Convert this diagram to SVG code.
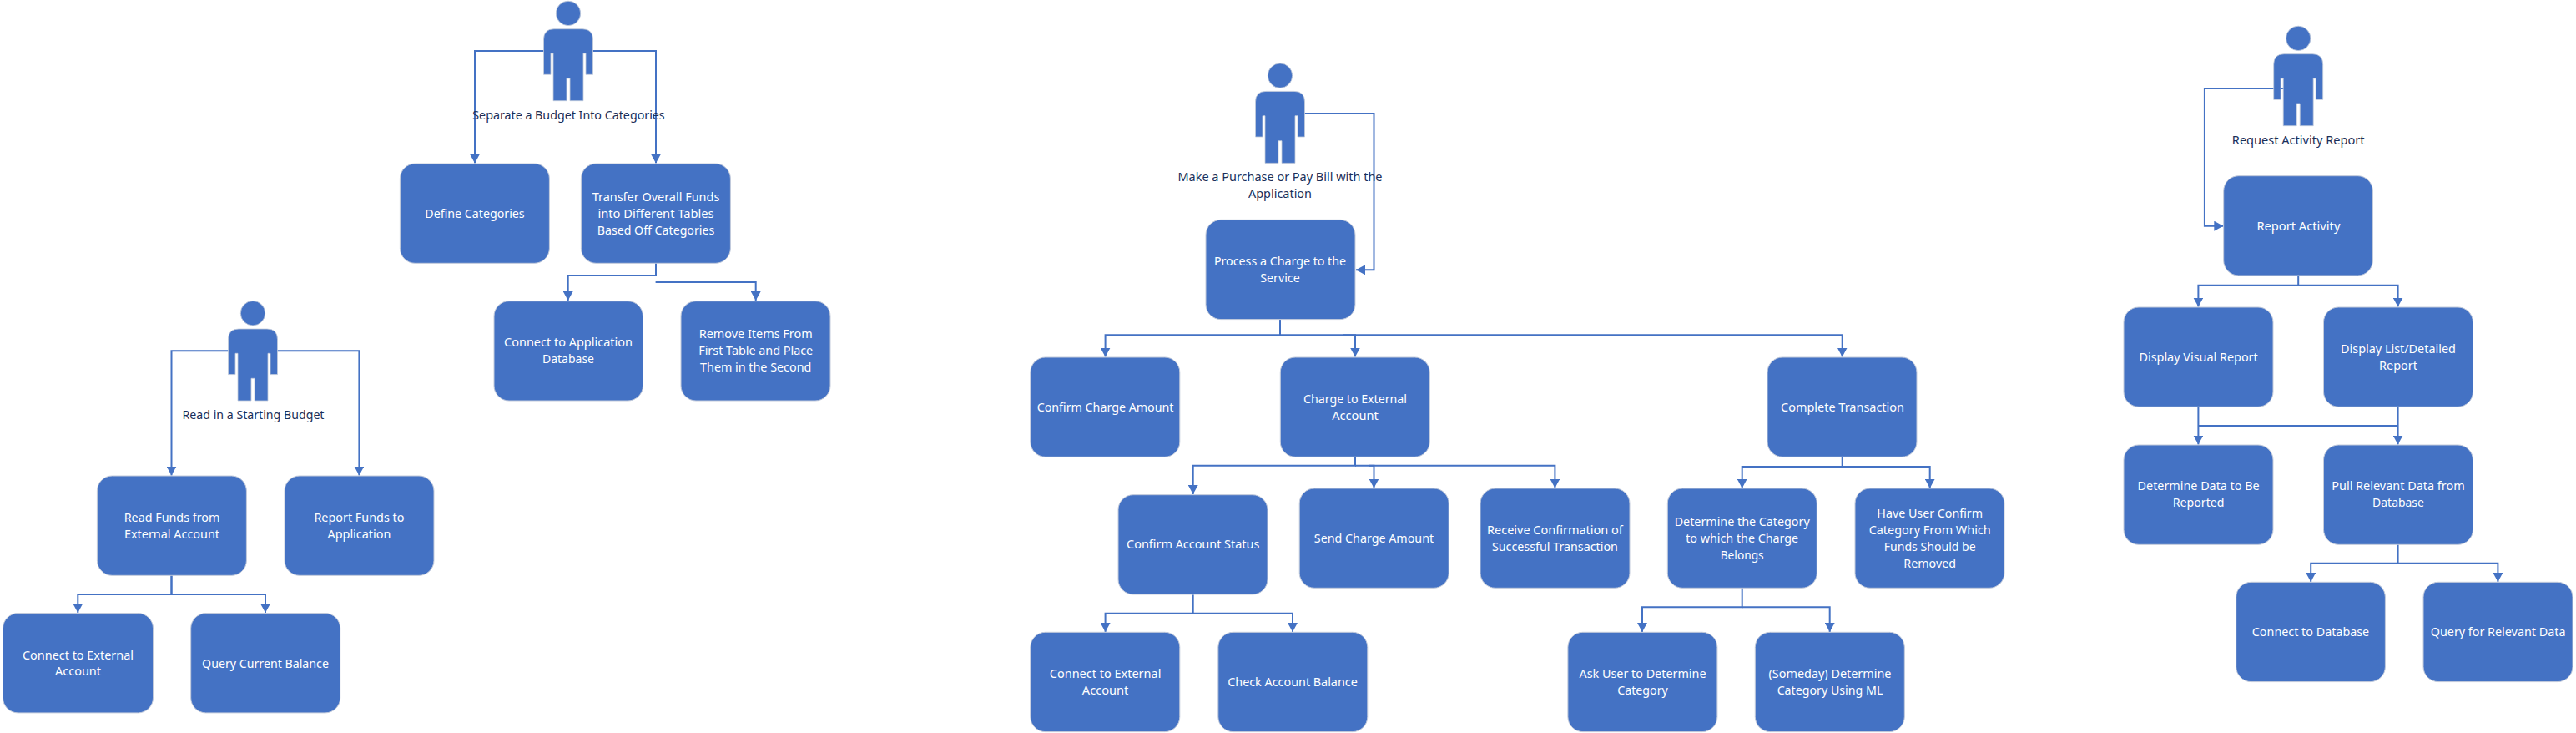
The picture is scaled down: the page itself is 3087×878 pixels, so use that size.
<svg xmlns="http://www.w3.org/2000/svg" width="3087" height="878" viewBox="0 0 3087 878">
<style>
.box{fill:#4472C4;stroke:#c3cbdb;stroke-width:1}
.p{fill:#4472C4;stroke:#c3cbdb;stroke-width:.8}
.c{fill:none;stroke:#4472C4;stroke-width:2;marker-end:url(#arr)}
.n{fill:none;stroke:#4472C4;stroke-width:2}
text{font-family:"Noto Sans","Open Sans","Liberation Sans",sans-serif;font-size:15px;text-anchor:middle}
.w{fill:#fff}
.d{fill:#1a2f5a}
</style>
<defs>
<marker id="arr" markerUnits="userSpaceOnUse" markerWidth="12" markerHeight="12" refX="11" refY="6" orient="auto"><path d="M0 0L11 6L0 12Z" fill="#4472C4"/></marker>
<g id="person"><circle cx="0" cy="14.6" r="14.7" class="p"/><path class="p" d="M-29.5 88V46Q-29.5 33.4-17 33.4H17Q29.5 33.4 29.5 46V88H21V62.7H18V119.4H2V92.7H-2V119.4H-18V62.7H-21V88Z"/></g>
</defs>
<rect width="3087" height="878" fill="#fff"/>
<g id="connectors">
<path class="c" d="M652 61H569V195.5"/>
<path class="c" d="M710 61H786V195.5"/>
<path class="c" d="M786 315V330H680.7V360"/>
<path class="c" d="M785.6 338H905.7V360"/>
<path class="c" d="M274 420.3H205.5V569.5"/>
<path class="c" d="M332 420.3H430.4V569.5"/>
<path class="c" d="M205.5 689V712H93.3V734"/>
<path class="c" d="M205.5 689V712H318V734"/>
<path class="c" d="M1563 136H1646.5V323.3H1625"/>
<path class="c" d="M1534 382.7V401.3H1324.6V427.5"/>
<path class="c" d="M1534 401.3H1624V427.5"/>
<path class="c" d="M1610 401.3H2207.7V427.5"/>
<path class="c" d="M1624 547V557.7H1429.7V592"/>
<path class="c" d="M1624 557.7H1646.5V584.5"/>
<path class="c" d="M1640 557.7H1863.4V584.5"/>
<path class="c" d="M1429.7 712V734.7H1324.6V757"/>
<path class="c" d="M1429.7 734.7H1549V757"/>
<path class="c" d="M2207.7 547V559H2087.7V584.7"/>
<path class="c" d="M2207.7 559H2312.7V584.7"/>
<path class="c" d="M2087.7 704V727.3H1968V757"/>
<path class="c" d="M2087.7 727.3H2192.7V757"/>
<path class="c" d="M2737.7 106H2641.9V270.7H2664.3"/>
<path class="c" d="M2754.2 330V341.7H2634.4V367.5"/>
<path class="c" d="M2754.2 341.7H2873.6V367.5"/>
<path class="c" d="M2634.4 487V532.5"/>
<path class="c" d="M2873.6 487V532.5"/>
<path class="n" d="M2634.4 510H2873.6"/>
<path class="c" d="M2873.6 652V674.7H2769.2V697"/>
<path class="c" d="M2873.6 674.7H2993.4V697"/>
</g>
<g id="actor-budget-categories"><use href="#person" x="681" y="1.3"/><text class="d" x="681.5" y="143" textLength="230.4" lengthAdjust="spacingAndGlyphs">Separate a Budget Into Categories</text></g>
<g id="actor-starting-budget"><use href="#person" x="303" y="360.6"/><text class="d" x="303.5" y="502.3" textLength="170" lengthAdjust="spacingAndGlyphs">Read in a Starting Budget</text></g>
<g id="actor-purchase"><use href="#person" x="1534" y="76"/><text class="d" x="1534" y="217.3" textLength="245" lengthAdjust="spacingAndGlyphs">Make a Purchase or Pay Bill with the</text><text class="d" x="1534" y="237.3" textLength="76" lengthAdjust="spacingAndGlyphs">Application</text></g>
<g id="actor-report"><use href="#person" x="2754.2" y="31.3"/><text class="d" x="2754.2" y="173.3" textLength="158.7" lengthAdjust="spacingAndGlyphs">Request Activity Report</text></g>

<g id="define-categories"><rect class="box" x="479.4" y="196" width="179" height="119.3" rx="18"/><text class="w" x="569" y="261" textLength="119.4" lengthAdjust="spacingAndGlyphs">Define Categories</text></g>
<g id="transfer-funds"><rect class="box" x="696.4" y="196" width="179" height="119.3" rx="18"/><text class="w" x="786" y="241" textLength="152.7" lengthAdjust="spacingAndGlyphs">Transfer Overall Funds</text><text class="w" x="786" y="261" textLength="139" lengthAdjust="spacingAndGlyphs">into Different Tables</text><text class="w" x="786" y="281" textLength="140.5" lengthAdjust="spacingAndGlyphs">Based Off Categories</text></g>
<g id="connect-app-db"><rect class="box" x="592" y="360.7" width="178.5" height="119.3" rx="18"/><text class="w" x="681" y="415" textLength="153.8" lengthAdjust="spacingAndGlyphs">Connect to Application</text><text class="w" x="681" y="435" textLength="62" lengthAdjust="spacingAndGlyphs">Database</text></g>
<g id="remove-items"><rect class="box" x="816" y="360.7" width="179" height="119.3" rx="18"/><text class="w" x="905.7" y="405" textLength="135.9" lengthAdjust="spacingAndGlyphs">Remove Items From</text><text class="w" x="905.7" y="425" textLength="137" lengthAdjust="spacingAndGlyphs">First Table and Place</text><text class="w" x="905.7" y="445" textLength="133.2" lengthAdjust="spacingAndGlyphs">Them in the Second</text></g>

<g id="read-funds"><rect class="box" x="116.4" y="570" width="179" height="119.3" rx="18"/><text class="w" x="206" y="625.3" textLength="114.7" lengthAdjust="spacingAndGlyphs">Read Funds from</text><text class="w" x="206" y="645.3" textLength="114" lengthAdjust="spacingAndGlyphs">External Account</text></g>
<g id="report-funds"><rect class="box" x="341" y="570" width="179" height="119.3" rx="18"/><text class="w" x="430.4" y="625.3" textLength="108" lengthAdjust="spacingAndGlyphs">Report Funds to</text><text class="w" x="430.4" y="645.3" textLength="75.8" lengthAdjust="spacingAndGlyphs">Application</text></g>
<g id="connect-external-1"><rect class="box" x="3.5" y="734.6" width="180" height="119.3" rx="18"/><text class="w" x="93.5" y="790.3" textLength="133" lengthAdjust="spacingAndGlyphs">Connect to External</text><text class="w" x="93.5" y="809.3" textLength="55" lengthAdjust="spacingAndGlyphs">Account</text></g>
<g id="query-balance"><rect class="box" x="228.7" y="734.6" width="179" height="119.3" rx="18"/><text class="w" x="318" y="799.6" textLength="151.9" lengthAdjust="spacingAndGlyphs">Query Current Balance</text></g>

<g id="process-charge"><rect class="box" x="1445" y="263.3" width="179" height="119.3" rx="18"/><text class="w" x="1534" y="318.3" textLength="158.2" lengthAdjust="spacingAndGlyphs">Process a Charge to the</text><text class="w" x="1534" y="338.3" textLength="47.4" lengthAdjust="spacingAndGlyphs">Service</text></g>
<g id="confirm-charge"><rect class="box" x="1234.8" y="428" width="179" height="119.3" rx="18"/><text class="w" x="1324.6" y="493.3" textLength="163.8" lengthAdjust="spacingAndGlyphs">Confirm Charge Amount</text></g>
<g id="charge-external"><rect class="box" x="1534.3" y="428" width="179" height="119.3" rx="18"/><text class="w" x="1624" y="483.3" textLength="124" lengthAdjust="spacingAndGlyphs">Charge to External</text><text class="w" x="1624" y="503.3" textLength="55.6" lengthAdjust="spacingAndGlyphs">Account</text></g>
<g id="complete-transaction"><rect class="box" x="2118" y="428" width="179" height="119.3" rx="18"/><text class="w" x="2208" y="493.3" textLength="148" lengthAdjust="spacingAndGlyphs">Complete Transaction</text></g>
<g id="confirm-account"><rect class="box" x="1340" y="592.7" width="179" height="119.3" rx="18"/><text class="w" x="1429.7" y="657.3" textLength="159.2" lengthAdjust="spacingAndGlyphs">Confirm Account Status</text></g>
<g id="send-charge"><rect class="box" x="1557.2" y="585" width="179" height="119.3" rx="18"/><text class="w" x="1646.5" y="650.3" textLength="143.4" lengthAdjust="spacingAndGlyphs">Send Charge Amount</text></g>
<g id="receive-confirmation"><rect class="box" x="1774" y="585" width="179" height="119.3" rx="18"/><text class="w" x="1863.4" y="640.3" textLength="162.8" lengthAdjust="spacingAndGlyphs">Receive Confirmation of</text><text class="w" x="1863.4" y="660.3" textLength="151" lengthAdjust="spacingAndGlyphs">Successful Transaction</text></g>
<g id="determine-category"><rect class="box" x="1998.3" y="585" width="179" height="119.3" rx="18"/><text class="w" x="2087.7" y="630.3" textLength="162" lengthAdjust="spacingAndGlyphs">Determine the Category</text><text class="w" x="2087.7" y="650.3" textLength="135" lengthAdjust="spacingAndGlyphs">to which the Charge</text><text class="w" x="2087.7" y="670.3" textLength="52" lengthAdjust="spacingAndGlyphs">Belongs</text></g>
<g id="user-confirm-category"><rect class="box" x="2223" y="585" width="179" height="119.3" rx="18"/><text class="w" x="2312.7" y="620.3" textLength="126.7" lengthAdjust="spacingAndGlyphs">Have User Confirm</text><text class="w" x="2312.7" y="640.3" textLength="146" lengthAdjust="spacingAndGlyphs">Category From Which</text><text class="w" x="2312.7" y="660.3" textLength="110" lengthAdjust="spacingAndGlyphs">Funds Should be</text><text class="w" x="2312.7" y="680.3" textLength="62.7" lengthAdjust="spacingAndGlyphs">Removed</text></g>
<g id="connect-external-2"><rect class="box" x="1234.8" y="757.3" width="179" height="119.3" rx="18"/><text class="w" x="1324.6" y="812.3" textLength="133.7" lengthAdjust="spacingAndGlyphs">Connect to External</text><text class="w" x="1324.6" y="832.3" textLength="55.6" lengthAdjust="spacingAndGlyphs">Account</text></g>
<g id="check-balance"><rect class="box" x="1459.8" y="757.3" width="179" height="119.3" rx="18"/><text class="w" x="1549" y="822.3" textLength="155.6" lengthAdjust="spacingAndGlyphs">Check Account Balance</text></g>
<g id="ask-user"><rect class="box" x="1878.9" y="757.3" width="179" height="119.3" rx="18"/><text class="w" x="1968.5" y="812.3" textLength="152" lengthAdjust="spacingAndGlyphs">Ask User to Determine</text><text class="w" x="1968.5" y="832.3" textLength="60.7" lengthAdjust="spacingAndGlyphs">Category</text></g>
<g id="someday-ml"><rect class="box" x="2103.3" y="757.3" width="179" height="119.3" rx="18"/><text class="w" x="2193" y="812.3" textLength="147" lengthAdjust="spacingAndGlyphs">(Someday) Determine</text><text class="w" x="2193" y="832.3" textLength="126.7" lengthAdjust="spacingAndGlyphs">Category Using ML</text></g>

<g id="report-activity"><rect class="box" x="2664.7" y="210.7" width="178.7" height="119.3" rx="18"/><text class="w" x="2754.4" y="276.3" textLength="100" lengthAdjust="spacingAndGlyphs">Report Activity</text></g>
<g id="display-visual"><rect class="box" x="2545" y="368" width="179" height="119.3" rx="18"/><text class="w" x="2634.6" y="433.3" textLength="142.3" lengthAdjust="spacingAndGlyphs">Display Visual Report</text></g>
<g id="display-list"><rect class="box" x="2784.5" y="368" width="179" height="119.3" rx="18"/><text class="w" x="2874" y="423.3" textLength="137.8" lengthAdjust="spacingAndGlyphs">Display List/Detailed</text><text class="w" x="2874" y="443.3" textLength="46" lengthAdjust="spacingAndGlyphs">Report</text></g>
<g id="determine-data"><rect class="box" x="2545" y="533" width="179" height="119.3" rx="18"/><text class="w" x="2634.6" y="587" textLength="146" lengthAdjust="spacingAndGlyphs">Determine Data to Be</text><text class="w" x="2634.6" y="607" textLength="61.8" lengthAdjust="spacingAndGlyphs">Reported</text></g>
<g id="pull-data"><rect class="box" x="2784.5" y="533" width="179" height="119.3" rx="18"/><text class="w" x="2874" y="587" textLength="159.5" lengthAdjust="spacingAndGlyphs">Pull Relevant Data from</text><text class="w" x="2874" y="607" textLength="61.8" lengthAdjust="spacingAndGlyphs">Database</text></g>
<g id="connect-db"><rect class="box" x="2679.7" y="697.3" width="178.7" height="119.3" rx="18"/><text class="w" x="2769" y="762.3" textLength="140.4" lengthAdjust="spacingAndGlyphs">Connect to Database</text></g>
<g id="query-data"><rect class="box" x="2904" y="697.3" width="179" height="119.3" rx="18"/><text class="w" x="2993.6" y="762.3" textLength="161.7" lengthAdjust="spacingAndGlyphs">Query for Relevant Data</text></g>
</svg>
